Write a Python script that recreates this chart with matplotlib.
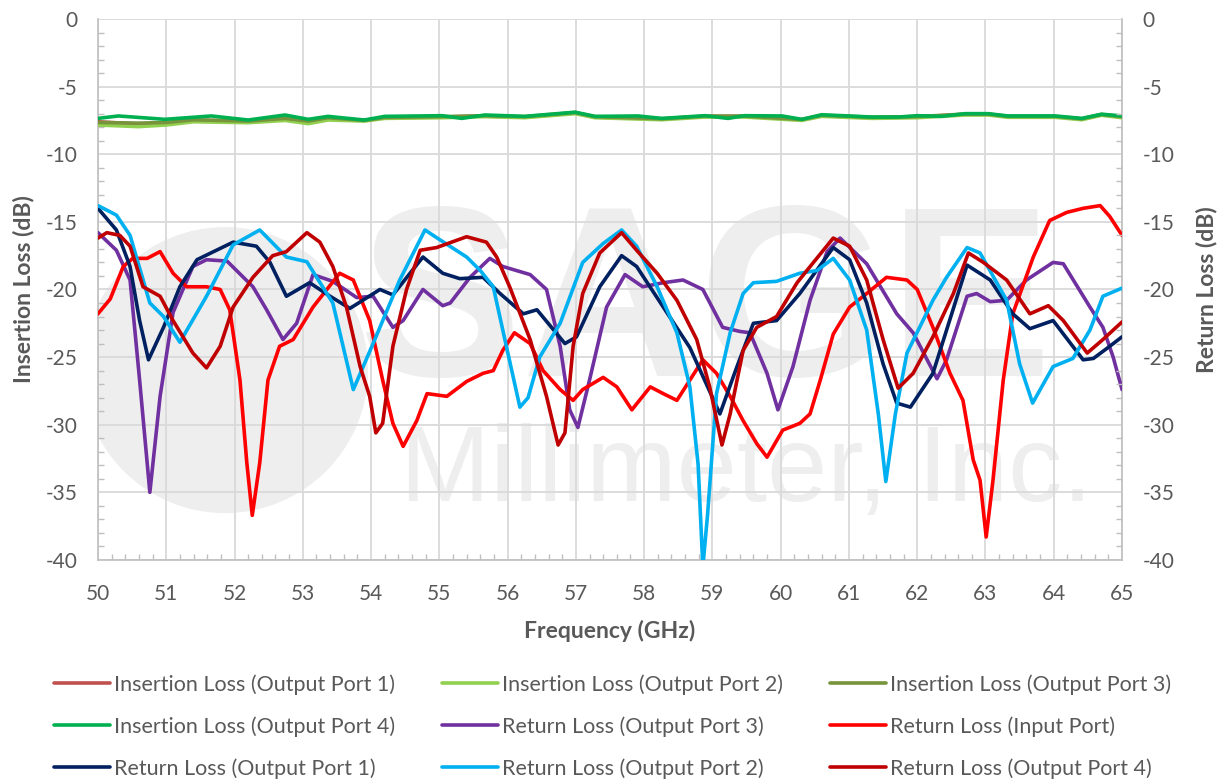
import matplotlib
matplotlib.use("Agg")
import matplotlib.pyplot as plt
from matplotlib.patches import Ellipse
from matplotlib.ticker import MultipleLocator

plt.rcParams["font.family"] = ["Lato", "DejaVu Sans"]
plt.rcParams["axes.unicode_minus"] = False

TEXT = "#595959"
GRID = "#D9D9D9"
MARK = "#EEEEEE"

# insertion loss, output ports 1-3 share a frequency grid
IL_FREQ = [50, 50.59, 51.0, 51.4, 52.2, 52.74, 53.08, 53.37, 53.9, 54.2,
           55.04, 55.67, 56.25, 56.99, 57.28, 58.26, 58.89, 59.47, 60.31, 60.6,
           61.34, 62.0, 62.7, 63.04, 63.33, 64.02, 64.41, 64.7, 65]
IL_P1 = [-7.6, -7.77, -7.7, -7.5, -7.55, -7.4, -7.6, -7.35, -7.5, -7.3,
         -7.25, -7.18, -7.25, -6.95, -7.25, -7.4, -7.2, -7.2, -7.45, -7.15,
         -7.3, -7.25, -7.05, -7.05, -7.22, -7.22, -7.4, -7.08, -7.25]
IL_P2 = [-7.84, -7.96, -7.84, -7.6, -7.67, -7.5, -7.74, -7.47, -7.55, -7.35,
         -7.3, -7.22, -7.3, -7.0, -7.3, -7.45, -7.25, -7.25, -7.5, -7.2,
         -7.35, -7.3, -7.1, -7.1, -7.27, -7.27, -7.45, -7.12, -7.3]
IL_P3 = [-7.65, -7.7, -7.65, -7.45, -7.55, -7.35, -7.55, -7.3, -7.5, -7.28,
         -7.22, -7.15, -7.22, -6.92, -7.22, -7.38, -7.18, -7.18, -7.43, -7.12,
         -7.27, -7.22, -7.03, -7.03, -7.2, -7.2, -7.38, -7.06, -7.22]

IL_P4_FREQ = [50, 50.3, 50.98, 51.66, 52.2, 52.74, 53.08, 53.37, 53.9, 54.2,
              55.04, 55.33, 55.67, 56.25, 56.99, 57.28, 57.91, 58.26, 58.89, 59.23,
              59.47, 60.02, 60.31, 60.6, 61.34, 61.72, 62.0, 62.36, 62.7, 63.04,
              63.33, 64.02, 64.41, 64.7, 65]
IL_P4 = [-7.35, -7.17, -7.42, -7.17, -7.47, -7.1, -7.42, -7.2, -7.47, -7.2,
         -7.15, -7.35, -7.1, -7.2, -6.89, -7.2, -7.17, -7.35, -7.15, -7.35,
         -7.15, -7.17, -7.42, -7.08, -7.25, -7.25, -7.15, -7.2, -7.0, -7.0,
         -7.17, -7.17, -7.35, -7.04, -7.17]

RL_P3_FREQ = [50, 50.27, 50.47, 50.61, 50.76, 50.91, 51.1, 51.39, 51.59, 51.89,
              52.27, 52.47, 52.71, 52.91, 53.15, 53.44, 53.79, 54.03, 54.32, 54.47,
              54.76, 55.05, 55.16, 55.45, 55.74, 55.93, 56.33, 56.57, 56.77, 56.91,
              57.03, 57.2, 57.45, 57.72, 57.98, 58.28, 58.57, 58.86, 59.15, 59.4,
              59.55, 59.8, 59.96, 60.18, 60.43, 60.68, 60.87, 61.26, 61.7, 61.94,
              62.29, 62.43, 62.73, 62.87, 63.07, 63.31, 63.6, 63.99, 64.14, 64.53,
              64.72, 64.87, 65]
RL_P3 = [-15.8, -17.1, -19.3, -26.7, -35.0, -27.9, -21.7, -18.3, -17.8, -17.9,
         -19.8, -21.5, -23.7, -22.5, -18.9, -19.4, -20.6, -20.5, -22.8, -22.3,
         -20.0, -21.2, -21.0, -19.1, -17.7, -18.3, -18.9, -20.0, -24.2, -28.9,
         -30.2, -26.7, -21.3, -18.9, -19.8, -19.5, -19.3, -20.0, -22.8, -23.1,
         -23.2, -26.2, -28.9, -25.7, -20.8, -17.2, -16.2, -18.1, -21.8, -23.2,
         -26.6, -25.2, -20.5, -20.3, -20.9, -20.8, -19.3, -18.0, -18.1, -21.3,
         -22.8, -25.0, -27.4]

RL_IN_FREQ = [50, 50.18, 50.37, 50.51, 50.72, 50.91, 51.1, 51.3, 51.59, 51.79,
              51.93, 52.08, 52.18, 52.26, 52.37, 52.49, 52.66, 52.86, 53.15, 53.54,
              53.74, 53.98, 54.17, 54.32, 54.47, 54.67, 54.82, 55.11, 55.4, 55.64,
              55.79, 55.93, 56.1, 56.33, 56.52, 56.77, 56.96, 57.1, 57.4, 57.6,
              57.82, 58.09, 58.28, 58.48, 58.67, 58.86, 59.06, 59.26, 59.45, 59.65,
              59.8, 60.03, 60.28, 60.43, 60.58, 60.77, 61.01, 61.26, 61.55, 61.85,
              62.0, 62.23, 62.48, 62.67, 62.82, 62.92, 63.01, 63.11, 63.26, 63.4,
              63.7, 63.94, 64.19, 64.43, 64.68, 64.82, 65]
RL_IN = [-21.8, -20.7, -18.3, -17.7, -17.7, -17.2, -18.8, -19.8, -19.8, -20.0,
         -21.5, -26.7, -32.8, -36.7, -32.8, -26.7, -24.2, -23.7, -21.3, -18.8,
         -19.3, -22.3, -26.7, -29.9, -31.6, -29.7, -27.7, -27.9, -26.8, -26.2,
         -26.0, -24.5, -23.2, -24.0, -26.0, -27.4, -28.2, -27.4, -26.5, -27.2,
         -28.9, -27.2, -27.7, -28.2, -26.7, -25.2, -26.2, -27.9, -29.7, -31.4,
         -32.4, -30.4, -29.9, -29.2, -26.7, -23.3, -21.3, -20.3, -19.1, -19.3,
         -20.0, -22.8, -26.2, -28.2, -32.6, -34.1, -38.3, -34.1, -26.7, -21.8,
         -17.6, -14.9, -14.3, -14.0, -13.8, -14.6, -16.0]

RL_P1_FREQ = [50, 50.27, 50.47, 50.61, 50.74, 50.96, 51.2, 51.45, 51.98, 52.32,
              52.52, 52.76, 53.1, 53.4, 53.69, 54.13, 54.32, 54.76, 55.05, 55.3,
              55.64, 55.89, 56.23, 56.43, 56.84, 57.01, 57.35, 57.67, 57.89, 58.28,
              58.67, 59.11, 59.36, 59.6, 59.94, 60.28, 60.77, 61.01, 61.26, 61.5,
              61.7, 61.9, 62.23, 62.73, 63.07, 63.4, 63.65, 63.99, 64.43, 64.58,
              64.82, 65]
RL_P1 = [-14.0, -15.6, -18.3, -22.3, -25.2, -22.8, -19.8, -17.8, -16.5, -16.8,
         -18.0, -20.5, -19.5, -20.5, -21.4, -20.0, -20.4, -17.6, -18.8, -19.2,
         -19.1, -20.3, -21.8, -21.5, -24.0, -23.5, -19.8, -17.5, -18.3, -21.3,
         -24.3, -29.2, -25.7, -22.5, -22.3, -20.3, -16.9, -17.8, -21.0, -25.5,
         -28.4, -28.7, -26.2, -18.2, -19.3, -21.8, -22.9, -22.3, -25.2, -25.1,
         -24.2, -23.5]

RL_P2_FREQ = [50, 50.27, 50.47, 50.76, 50.96, 51.2, 51.59, 51.98, 52.37, 52.76,
              53.06, 53.44, 53.74, 54.03, 54.42, 54.79, 55.0, 55.4, 55.6, 55.79,
              55.96, 56.18, 56.3, 56.47, 56.77, 57.1, 57.4, 57.67, 57.89, 58.19,
              58.48, 58.67, 58.79, 58.86, 58.93, 59.06, 59.26, 59.45, 59.6, 59.94,
              60.28, 60.53, 60.77, 61.01, 61.26, 61.43, 61.54, 61.68, 61.85, 62.23,
              62.43, 62.73, 62.92, 63.31, 63.5, 63.69, 63.99, 64.28, 64.53, 64.72,
              65]
RL_P2 = [-13.8, -14.5, -16.0, -21.0, -22.0, -23.9, -20.5, -16.7, -15.6, -17.6,
         -17.95, -21.0, -27.4, -24.0, -19.3, -15.6, -16.3, -17.6, -18.6, -19.8,
         -23.7, -28.7, -28.0, -25.0, -22.5, -18.0, -16.6, -15.6, -16.8, -19.8,
         -23.2, -27.2, -32.9, -40.5, -36.6, -27.7, -23.2, -20.3, -19.5, -19.4,
         -18.8, -18.6, -17.7, -19.3, -23.0, -29.2, -34.2, -29.2, -24.7, -20.8,
         -19.1, -16.9, -17.3, -20.8, -25.5, -28.4, -25.7, -25.1, -23.0, -20.5,
         -19.9]

RL_P4_FREQ = [50, 50.13, 50.32, 50.47, 50.66, 50.91, 51.1, 51.39, 51.59, 51.79,
              51.98, 52.27, 52.56, 52.76, 53.06, 53.25, 53.44, 53.64, 53.84, 53.98,
              54.07, 54.17, 54.32, 54.52, 54.72, 54.96, 55.4, 55.69, 55.84, 56.03,
              56.33, 56.57, 56.74, 56.84, 56.96, 57.1, 57.35, 57.67, 57.89, 58.19,
              58.48, 58.77, 58.96, 59.14, 59.26, 59.45, 59.65, 59.94, 60.24, 60.48,
              60.77, 61.01, 61.26, 61.5, 61.72, 61.94, 62.23, 62.53, 62.75, 62.97,
              63.31, 63.65, 63.92, 64.14, 64.49, 64.72, 65]
RL_P4 = [-16.2, -15.8, -16.0, -16.8, -19.8, -20.5, -22.3, -24.7, -25.8, -24.2,
         -21.3, -19.1, -17.5, -17.2, -15.8, -16.5, -18.3, -21.3, -25.7, -27.9,
         -30.6, -29.9, -24.2, -20.0, -17.1, -16.9, -16.1, -16.5, -17.6, -19.8,
         -23.7, -27.9, -31.5, -30.6, -24.2, -20.3, -17.3, -15.8, -17.1, -18.8,
         -20.8, -23.7, -27.2, -31.5, -29.2, -24.5, -22.8, -22.0, -19.5, -18.0,
         -16.2, -16.8, -19.3, -23.7, -27.3, -26.2, -23.5, -20.3, -17.3, -18.0,
         -19.3, -21.8, -21.2, -22.3, -24.7, -23.7, -22.4]

# (label, freq, values, colour) in series order
SERIES = [
    ("Insertion Loss (Output Port 1)", IL_FREQ, IL_P1, "#C0504D"),
    ("Insertion Loss (Output Port 2)", IL_FREQ, IL_P2, "#92D050"),
    ("Insertion Loss (Output Port 3)", IL_FREQ, IL_P3, "#77933C"),
    ("Insertion Loss (Output Port 4)", IL_P4_FREQ, IL_P4, "#00B050"),
    ("Return Loss (Output Port 3)", RL_P3_FREQ, RL_P3, "#7030A0"),
    ("Return Loss (Input Port)", RL_IN_FREQ, RL_IN, "#FF0000"),
    ("Return Loss (Output Port 1)", RL_P1_FREQ, RL_P1, "#002060"),
    ("Return Loss (Output Port 2)", RL_P2_FREQ, RL_P2, "#00B0F0"),
    ("Return Loss (Output Port 4)", RL_P4_FREQ, RL_P4, "#C00000"),
]

fig = plt.figure(figsize=(12.2, 7.81), dpi=100)
ax = fig.add_axes([0.0803, 0.283, 0.8394, 0.6927])

# faint company watermark behind the data
ax.add_patch(Ellipse((51.86, -25.96), 4.19, 21.15, color=MARK, zorder=0, lw=0))
ax.text(58.9, -21.8, "SAGE", fontsize=176, fontweight="bold", color=MARK,
        ha="center", va="center", family="Liberation Sans", zorder=0)
ax.text(59.5, -33.6, "Millimeter, Inc.", fontsize=78, color=MARK,
        ha="center", va="center", family="Liberation Sans", zorder=0)

handles = []
for label, xs, ys, col in SERIES:
    h, = ax.plot(xs, ys, color=col, lw=2.6, label=label, zorder=3,
                 solid_joinstyle="round", solid_capstyle="round")
    handles.append(h)

ax.set_xlim(50, 65)
ax.set_ylim(-40, 0)
ax.xaxis.set_major_locator(MultipleLocator(1))
ax.xaxis.set_minor_locator(MultipleLocator(0.2))
ax.yaxis.set_major_locator(MultipleLocator(5))
ax.yaxis.set_minor_locator(MultipleLocator(1))
ax.grid(True, which="major", color=GRID, lw=1.3, zorder=1)
ax.set_axisbelow(True)
ax.tick_params(which="major", length=0, labelsize=15, labelcolor=TEXT)
ax.tick_params(which="minor", direction="in", length=4, color="#BFBFBF",
               width=1.0)
ax.tick_params(axis="x", which="major", pad=17)
ax.tick_params(axis="y", which="major", pad=15)
for side in ("left", "bottom", "right"):
    ax.spines[side].set_color("#BFBFBF")
    ax.spines[side].set_linewidth(1.2)
ax.spines["top"].set_visible(False)

ax2 = ax.twinx()
ax2.set_ylim(-40, 0)
ax2.yaxis.set_major_locator(MultipleLocator(5))
ax2.yaxis.set_minor_locator(MultipleLocator(1))
ax2.tick_params(which="major", length=0, labelsize=15, labelcolor=TEXT, pad=15)
ax2.tick_params(which="minor", direction="in", length=4, color="#BFBFBF",
                width=1.0)
for s in ax2.spines.values():
    s.set_visible(False)

ax.set_xlabel("Frequency (GHz)", fontsize=16.5, fontweight="bold", color=TEXT,
              labelpad=12)
ax.set_ylabel("Insertion Loss (dB)", fontsize=16.5, fontweight="bold",
              color=TEXT, labelpad=8)
ax2.set_ylabel("Return Loss (dB)", fontsize=16.5, fontweight="bold",
               color=TEXT, labelpad=15)

# matplotlib fills legend columns first; reorder for the row-wise layout
order = [0, 3, 6, 1, 4, 7, 2, 5, 8]
fig.legend([handles[i] for i in order], [SERIES[i][0] for i in order],
           loc="upper left", bbox_to_anchor=(0.037, 0.148, 0.93, 0.0),
           mode="expand", ncol=3, frameon=False, fontsize=15.5,
           labelcolor=TEXT, handlelength=2.6, handletextpad=0.2,
           labelspacing=1.0, borderaxespad=0)

fig.savefig("out.png", dpi=100)
